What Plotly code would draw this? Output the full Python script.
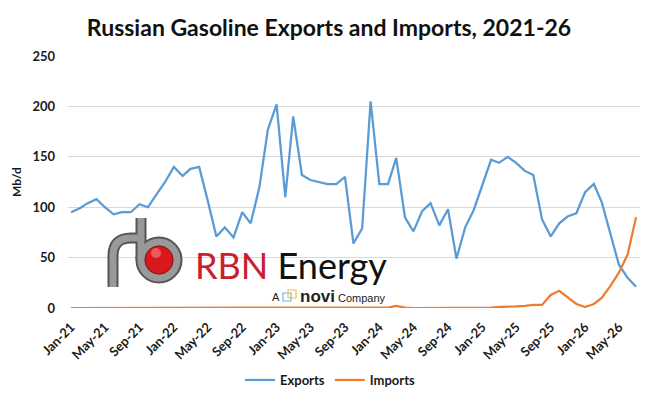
import plotly.graph_objects as go
import pandas as pd

# monthly, Jan-21 .. Jul-26
months = pd.date_range("2021-01-01", "2026-07-01", freq="MS")

exports = [95, 99, 104, 108, 100, 93, 95, 95, 103, 100,
           113, 125, 140, 131, 138, 140, 107, 71, 80, 70,
           95, 84, 120, 177, 202, 110, 190, 132, 127, 125,
           123, 123, 130, 64, 79, 205, 123, 123, 149, 90,
           76, 96, 104, 82, 98, 49, 80, 97, 122, 147,
           144, 150, 144, 136, 132, 88, 71, 84, 91, 94,
           115, 123, 105, 73, 43, 30, 21]

imports = [0, 0, 0, 0, 0, 0, 0, 0, 0, 0,
           0, 0, 0, 0, 0, 0, 0, 0, 0, 0,
           0, 0, 0, 0, 0, 0, 0, 0, 0, 0,
           0, 0, 0, 0, 0, 0, 0, 0.5, 2, 0.5,
           0, 0, 0, 0, 0, 0, 0, 0, 0.3, 0.5,
           1, 1, 1.5, 2, 3, 3, 13, 17, 10, 4,
           1, 4, 10, 22, 35, 53, 90]

colors = dict(blue="#5B9BD5", orange="#ED7D31", grid="#D9D9D9",
              text="#1A1A1A", rbn_red="#C8202F", pipe="#999999")

W, H = 665, 403
L, R, T, B = 68, 25, 56, 95


def px(x):
    return (x - L) / (W - L - R)


def py(y):
    return (H - B - y) / (H - T - B)


fig = go.Figure()
fig.add_trace(go.Scatter(x=months, y=exports, name="Exports", mode="lines",
                         line=dict(color=colors['blue'], width=2.25)))
fig.add_trace(go.Scatter(x=months, y=imports, name="Imports", mode="lines",
                         line=dict(color=colors['orange'], width=2.25)))

# RBN Energy watermark: "rb" pipe + red ball
shapes = []
r_path = (f"M {px(113)} {py(287)} L {px(113)} {py(256)} "
          f"Q {px(113)} {py(238)} {px(131)} {py(238)} L {px(141)} {py(238)}")
stem = f"M {px(141)} {py(218)} L {px(141)} {py(260)}"
for w, c in [(11, "#555555"), (7, colors['pipe'])]:
    shapes.append(dict(type="path", path=r_path, xref="paper", yref="paper",
                       line=dict(color=c, width=w)))
    shapes.append(dict(type="path", path=stem, xref="paper", yref="paper",
                       line=dict(color=c, width=w)))
    shapes.append(dict(type="circle", xref="paper", yref="paper",
                       x0=px(141), x1=px(177), y0=py(278), y1=py(242),
                       line=dict(color=c, width=w)))
shapes.append(dict(type="circle", xref="paper", yref="paper",
                   x0=px(145), x1=px(173), y0=py(274), y1=py(246),
                   fillcolor="#D7191F", line=dict(color="#9E1015", width=1)))
shapes.append(dict(type="circle", xref="paper", yref="paper",
                   x0=px(151), x1=px(161), y0=py(258), y1=py(248),
                   fillcolor="#EE5A5E", line=dict(width=0)))
# little novi cube icon
shapes.append(dict(type="rect", xref="paper", yref="paper",
                   x0=px(283), x1=px(291), y0=py(301), y1=py(293),
                   line=dict(color="#6FB7E0", width=1.2)))
shapes.append(dict(type="rect", xref="paper", yref="paper",
                   x0=px(288), x1=px(296), y0=py(298), y1=py(290),
                   line=dict(color="#E8C547", width=1.2)))

annotations = [
    dict(text=f"<span style='color:{colors['rbn_red']}'>RBN</span> Energy",
         x=px(291), y=py(265), xref="paper", yref="paper",
         xanchor="center", yanchor="middle", showarrow=False,
         font=dict(family="Lato", size=36, color="#111111", weight=400)),
    dict(text="A", x=px(276), y=py(297), xref="paper", yref="paper",
         xanchor="center", yanchor="middle", showarrow=False,
         font=dict(family="Liberation Sans", size=11, color="#222222")),
    dict(text="<span style='font-size:17px'><b>novi</b></span> Company",
         x=px(298), y=py(296), xref="paper", yref="paper",
         xanchor="left", yanchor="middle", showarrow=False,
         font=dict(family="Liberation Sans", size=11, color="#222222")),
]

fig.update_layout(
    width=W, height=H,
    margin=dict(l=L, r=R, t=T, b=B, autoexpand=False),
    plot_bgcolor="white", paper_bgcolor="white",
    font=dict(family="Lato", color=colors['text']),
    title=dict(text="<b>Russian Gasoline Exports and Imports, 2021-26</b>",
               x=329 / W, xanchor="center", y=1 - 28 / H, yanchor="middle",
               font=dict(family="Lato", size=23, color="#111111")),
    legend=dict(orientation="h", x=px(330), xanchor="center",
                y=py(380), yanchor="middle",
                font=dict(size=13, weight="bold", color=colors['text'])),
    shapes=shapes,
    annotations=annotations,
)

fig.update_xaxes(
    range=["2020-12-21", "2026-07-15"],
    tick0="2021-01-01", dtick="M4", tickformat="%b-%y", tickangle=-45,
    tickfont=dict(size=13, weight="bold", color=colors['text']),
    ticklabelstandoff=8,
    showgrid=False, showline=False, ticks="",
)
fig.update_yaxes(
    range=[0, 250], dtick=50, gridcolor=colors['grid'], zeroline=False,
    showline=False, ticks="",
    tickfont=dict(size=13, weight="bold", color=colors['text']),
    ticklabelstandoff=12,
    title=dict(text="<b>Mb/d</b>", font=dict(size=12, color=colors['text']),
               standoff=8),
)

fig.write_html("out.html", config={"displayModeBar": False},
               post_script="document.body.style.margin='0';")
